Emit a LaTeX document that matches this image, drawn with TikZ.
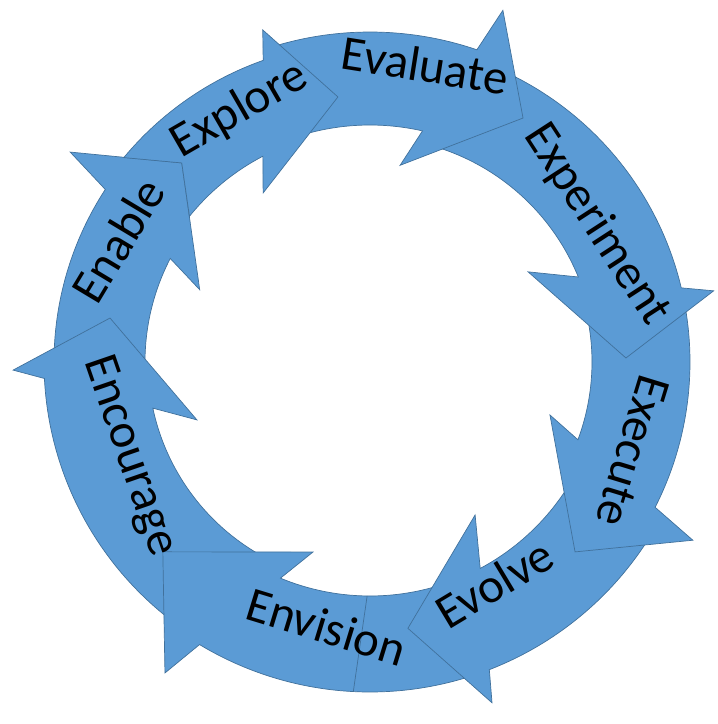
\documentclass[tikz,border=0pt]{standalone}
\usepackage{fontspec}
\setmainfont{Carlito}
\definecolor{ringfill}{HTML}{5B9BD5}
\definecolor{ringline}{HTML}{41719C}

\begin{document}
\begin{tikzpicture}[x=1pt,y=1pt,
    stage/.style={fill=ringfill,draw=ringline,line width=0.7pt,line join=miter},
    word/.style={font=\fontsize{49}{50}\selectfont,text height=0.56em,
                 text depth=0pt,inner sep=0pt}]
  \useasboundingbox (-370,-362) rectangle (348,362);
  % the eight curved arrows, clockwise
  \draw[stage] (180.5:316) arc[start angle=180.5,end angle=146.9,radius=316]
        -- (145:366) -- (133.4:274) -- (157:185) -- (152.6:225)
        arc[start angle=152.6,end angle=185,radius=225] -- cycle;
  \draw[stage] (234:326) arc[start angle=234,end angle=182.9,radius=326]
        -- (181.3:357) -- (170.4:263.7) -- (198.5:182.5) -- (192:222)
        arc[start angle=192,end angle=243,radius=222] -- cycle;
  \draw[stage] (-71:330) arc[start angle=-71,end angle=-121.1,radius=330]
        -- (-123.4:372.5) -- (-137.5:281) -- (-106.7:198.4) -- (-112.5:234)
        arc[start angle=-112.5,end angle=-70,radius=234] -- cycle;
  \draw[ringline,line width=0.7pt] (-92.9:330) -- (-90.7:234);
  \draw[stage] (-31:330) arc[start angle=-31,end angle=-68.8,radius=330]
        -- (-70.3:362) -- (-81.9:269) -- (-55.5:185.6) -- (-61.9:234)
        arc[start angle=-61.9,end angle=-28,radius=234] -- cycle;
  \draw[stage] (11:320) arc[start angle=11,end angle=-27,radius=320]
        -- (-28.9:368.8) -- (-42.8:279.5) -- (-16.4:187.6) -- (-20.5:222)
        arc[start angle=-20.5,end angle=14,radius=222] -- cycle;
  \draw[stage] (67:320) arc[start angle=67,end angle=13.4,radius=320]
        -- (11.7:351) -- (0.9:256) -- (29.7:182) -- (22.2:225)
        arc[start angle=22.2,end angle=75,radius=225] -- cycle;
  \draw[stage] (107.5:330) arc[start angle=107.5,end angle=71.1,radius=330]
        -- (69.3:376) -- (57.9:288) -- (81.3:199) -- (77.2:237)
        arc[start angle=77.2,end angle=110,radius=237] -- cycle;
  % tail cut along the head of Enable
  \draw[stage] (140.3:320) arc[start angle=140.3,end angle=109.5,radius=320]
        -- (107.9:349) -- (96.9:267) -- (122.3:200) -- (117.5:232)
        arc[start angle=117.5,end angle=141.1,radius=232] -- (133.4:274) -- cycle;
  % labels
  \node[word,rotate=59] (enable) at (154.5:266) {Enable};
  \node[word,rotate=30] (explore) at (117.2:273.7) {Explore};
  \node[word,rotate=-9] (evaluate) at (79.4:287.9) {Evaluate};
  \node[word,rotate=-57] (experiment) at (31.2:254.9) {Experiment};
  \node[word,rotate=-107] (execute) at (-18.85:264.7) {Execute};
  \node[word,rotate=31] (evolve) at (-60.6:267.6) {Evolve};
  \node[word,rotate=-17] (envision) at (-99.7:282) {Envision};
  \node[word,rotate=-71] (encourage) at (201.3:267) {Encourage};
\end{tikzpicture}
\end{document}
